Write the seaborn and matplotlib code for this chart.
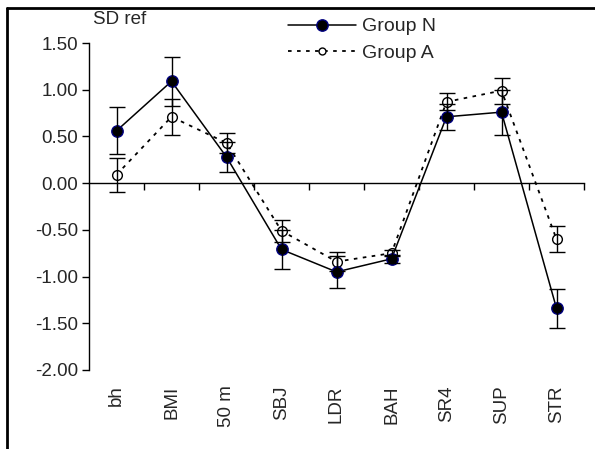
import numpy as np
import matplotlib
matplotlib.use('Agg')
import matplotlib.pyplot as plt
import seaborn as sns
from matplotlib.lines import Line2D

# Data
categories = ['bh', 'BMI', '50 m', 'SBJ', 'LDR', 'BAH', 'SR4', 'SUP', 'STR']
group_n_mean = [0.56, 1.09, 0.28, -0.71, -0.95, -0.81, 0.71, 0.76, -1.34]
group_n_err = [0.25, 0.26, 0.16, 0.21, 0.17, 0.04, 0.14, 0.24, 0.21]
group_a_mean = [0.09, 0.71, 0.43, -0.51, -0.84, -0.75, 0.87, 0.99, -0.60]
group_a_err = [0.18, 0.19, 0.11, 0.12, 0.10, 0.03, 0.09, 0.14, 0.14]
y_ticks = [1.5, 1.0, 0.5, 0.0, -0.5, -1.0, -1.5, -2.0]

sns.set_style('ticks')
plt.rcParams['font.family'] = ['Liberation Sans', 'DejaVu Sans']

fig = plt.figure(figsize=(5.95, 4.49), dpi=100)
ax = fig.add_axes([89 / 595, 1 - 370 / 449, 495 / 595, 327 / 449])

# Lines with markers
sns.lineplot(x=categories, y=group_a_mean, ax=ax, sort=False, color='black',
             linestyle=(0, (2, 3)), linewidth=1.3, marker='o', markersize=7,
             markerfacecolor='white', markeredgecolor='black', markeredgewidth=1,
             zorder=3)
sns.lineplot(x=categories, y=group_n_mean, ax=ax, sort=False, color='black',
             linewidth=1.1, marker='o', markersize=8.2,
             markerfacecolor='black', markeredgecolor='#000080', markeredgewidth=1,
             zorder=4)

pos = np.arange(len(categories))
ax.errorbar(pos, group_a_mean, yerr=group_a_err, fmt='none', ecolor='black',
            elinewidth=1, capsize=5.5, capthick=1, zorder=5)
ax.errorbar(pos, group_n_mean, yerr=group_n_err, fmt='none', ecolor='black',
            elinewidth=1, capsize=5.5, capthick=1, zorder=5)

# Axes styling
ax.set_xlim(-0.5, len(categories) - 0.5)
ax.set_ylim(-2.0, 1.5)
ax.set_yticks(y_ticks)
ax.set_yticklabels([f'{v:.2f}' for v in y_ticks], fontsize=13.5)
ax.tick_params(axis='y', direction='out', length=5, width=1, pad=3, color='black')
ax.spines['top'].set_visible(False)
ax.spines['right'].set_visible(False)
ax.spines['left'].set_linewidth(1)
ax.spines['left'].set_color('black')
ax.spines['bottom'].set_position(('data', 0))
ax.spines['bottom'].set_linewidth(1)
ax.spines['bottom'].set_color('black')
ax.set_xticks(np.arange(0.5, len(categories), 1))
ax.set_xticklabels([])
ax.tick_params(axis='x', direction='out', length=5, width=1, color='black')
ax.set_xlabel('')
ax.set_ylabel('')

for i, cat in enumerate(categories):
    ax.text(i, -0.047, cat, transform=ax.get_xaxis_transform(), rotation=90,
            ha='center', va='top', fontsize=13.5)

fig.text(93 / 595, 1 - 20 / 449, 'SD ref', fontsize=13.5, va='center', ha='left')

# Legend
handles = [
    Line2D([], [], color='black', linewidth=1.1, marker='o', markersize=8.2,
           markerfacecolor='black', markeredgecolor='#000080'),
    Line2D([], [], color='black', linewidth=1.3, linestyle=(0, (2, 3)), marker='o',
           markersize=5, markerfacecolor='white', markeredgecolor='black'),
]
fig.legend(handles, ['Group N', 'Group A'], loc='upper left',
           bbox_to_anchor=(278 / 595, 1 - 8 / 449), frameon=False, fontsize=14,
           handlelength=3.5, handletextpad=0.3, labelspacing=0.45, borderpad=0)

# Outer border (left and top only)
fig.add_artist(Line2D([7 / 595, 7 / 595], [0, 1 - 8 / 449], color='black',
                      linewidth=2, transform=fig.transFigure))
fig.add_artist(Line2D([7 / 595, 1], [1 - 8 / 449, 1 - 8 / 449], color='black',
                      linewidth=2, transform=fig.transFigure))

fig.savefig('out.png', dpi=100)
